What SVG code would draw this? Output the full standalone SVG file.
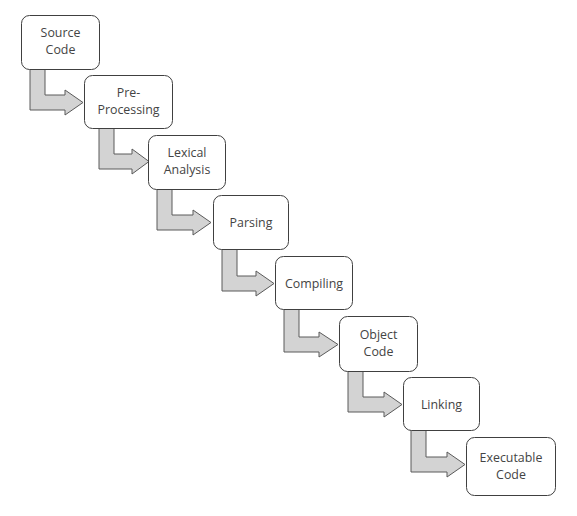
<svg xmlns="http://www.w3.org/2000/svg" width="577" height="516" viewBox="0 0 577 516">
<style>
.box{fill:#fff;stroke:#404040;stroke-width:1}
.arr{fill:#d3d3d3;stroke:#5a5a5a;stroke-width:1;stroke-linejoin:miter}
.t{font-family:"Open Sans","Noto Sans",sans-serif;font-size:12.4px;fill:#444;text-anchor:middle}
</style>
<rect width="577" height="516" fill="#fff"/>
<g id="connectors">
<path class="arr" d="M30,69 H45 V95 H65 V90 L83,102.5 L65,115 V110 H30 Z"/>
<path class="arr" d="M99,128 H114 V154 H132 V149 L149,161.5 L132,174 V169 H99 Z"/>
<path class="arr" d="M157,189 H172 V215 H193 V210 L211,222.5 L193,235 V230 H157 Z"/>
<path class="arr" d="M222,249 H237 V276 H256 V271 L274,283.5 L256,296 V291 H222 Z"/>
<path class="arr" d="M284,309 H299 V337 H319 V332 L338,344.5 L319,357 V352 H284 Z"/>
<path class="arr" d="M348,371 H363 V397 H384 V392 L402,404.5 L384,417 V412 H348 Z"/>
<path class="arr" d="M411,430 H426 V457 H447 V452 L465,464.5 L447,477 V472 H411 Z"/>
</g>
<g id="source-code"><rect class="box" x="21.5" y="15.5" width="78" height="54" rx="8"/><text class="t" x="60.5" y="37">Source</text><text class="t" x="60.5" y="54">Code</text></g>
<g id="pre-processing"><rect class="box" x="84.5" y="75.5" width="88" height="53" rx="8"/><text class="t" x="128.5" y="97">Pre-</text><text class="t" x="128.5" y="114">Processing</text></g>
<g id="lexical-analysis"><rect class="box" x="148.5" y="135.5" width="77" height="54" rx="8"/><text class="t" x="187" y="157">Lexical</text><text class="t" x="187" y="174">Analysis</text></g>
<g id="parsing"><rect class="box" x="213.5" y="195.5" width="75" height="54" rx="8"/><text class="t" x="251" y="226.5">Parsing</text></g>
<g id="compiling"><rect class="box" x="275.5" y="256.5" width="77" height="53" rx="8"/><text class="t" x="314" y="287.5">Compiling</text></g>
<g id="object-code"><rect class="box" x="339.5" y="316.5" width="78" height="55" rx="8"/><text class="t" x="378.5" y="339">Object</text><text class="t" x="378.5" y="356">Code</text></g>
<g id="linking"><rect class="box" x="403.5" y="377.5" width="76" height="53" rx="8"/><text class="t" x="441.5" y="408.5">Linking</text></g>
<g id="executable-code"><rect class="box" x="466.5" y="437.5" width="89" height="58" rx="8"/><text class="t" x="511" y="462">Executable</text><text class="t" x="511" y="479">Code</text></g>
</svg>
